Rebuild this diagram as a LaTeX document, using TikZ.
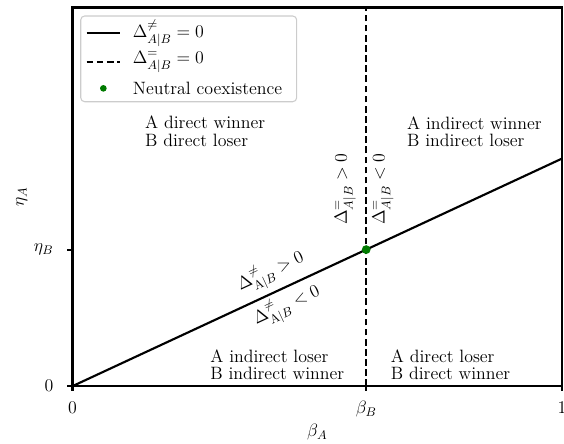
\RequirePackage{fix-cm}
\documentclass[tikz,border=0pt]{standalone}
\usepackage{amsmath,amssymb}
\usepackage{tikz}
\usetikzlibrary{positioning}
\usepackage{xcolor}
\definecolor{dotgreen}{HTML}{007A00}
\definecolor{legedge}{HTML}{CCCCCC}
\newcommand\plotfont{\fontsize{13.4}{13.2}\selectfont}
\tikzset{every node/.append style={execute at begin node=\plotfont}}

\begin{document}
\begin{tikzpicture}[x=367.1pt,y=102.4pt,
  frame/.style={line width=1.6pt},
  solidcurve/.style={line width=1.6pt},
  dashcurve/.style={line width=1.6pt,dash pattern=on 5pt off 2.6pt},
  region/.style={align=left,anchor=west,inner sep=0pt},
  legtext/.style={anchor=west,inner sep=0pt},
  dot/.style={circle,fill=dotgreen,inner sep=0pt,minimum size=6.6pt}]
\useasboundingbox (-0.1481,-0.4176) rectangle (1.0041,2.828);
% data points
\coordinate (O) at (0,0);
\coordinate (bB) at (0.6,0);
\coordinate (top) at (0.6,2.773);
\coordinate (end) at (1,1.6667);
\draw[solidcurve] (O) -- (end);
\draw[dashcurve] (bB) -- (top);
\node[dot] (nc) at (0.6,1) {};
% axes box and ticks
\draw[frame] (0,0) rectangle (1,2.773);
\foreach \x/\lab in {0/0, 0.6/$\beta_B$, 1/1}
  \draw[frame] (\x,0) -- ++(0,-3.8pt) node[anchor=base,inner sep=0pt,yshift=-17pt] {\lab};
\foreach \y/\lab in {0/0, 1/$\eta_B$}
  \draw[frame] (0,\y) -- ++(-4pt,0) node[anchor=east,inner sep=0pt,xshift=-9.5pt] {\lab};
\node (xlab) at (0.5,0) [yshift=-34.5pt] {$\beta_A$};
\node (ylab) at (0,1.386) [xshift=-38pt,rotate=90] {$\eta_A$};
% regions
\node[region] (dw) at (0.148,1.866) {A direct winner\\B direct loser};
\node[region] (iw) at (0.683,1.863) {A indirect winner\\B indirect loser};
\node[region] (il) at (0.281,0.1575) {A indirect loser\\B indirect winner};
\node[region] (dl) at (0.650,0.1575) {A direct loser\\B direct winner};
% signs along the lines
\node[rotate=90] (eqpos) at (0.557,1.443) {$\Delta^{=}_{A|B} > 0$};
\node[rotate=90] (eqneg) at (0.634,1.443) {$\Delta^{=}_{A|B} < 0$};
\node[rotate=24.9] (nepos) at (0.4055,0.835) {$\Delta^{\neq}_{\mathrm{A}|B} > 0$};
\node[rotate=24.9] (neneg) at (0.438,0.586) {$\Delta^{\neq}_{\mathrm{A}|B} < 0$};
% legend
\draw[legedge,line width=0.8pt,rounded corners=3pt,fill=white] (0.0168,2.083) rectangle (0.458,2.711);
\draw[solidcurve] (0.029,2.586) coordinate (s1) -- (0.097,2.586) coordinate (e1);
\draw[dashcurve] (0.029,2.376) coordinate (s2) -- (0.097,2.376) coordinate (e2);
\node[dot,minimum size=5pt] (ld) at (0.063,2.181) {};
\coordinate (e3) at (0.097,2.181);
\node[legtext,right=9.5pt of e1] (lt1) {$\Delta^{\neq}_{A|B} = 0$};
\node[legtext,right=9.5pt of e2] (lt2) {$\Delta^{=}_{A|B} = 0$};
\node[legtext,right=9.5pt of e3] (lt3) {Neutral coexistence};
\end{tikzpicture}
\end{document}
